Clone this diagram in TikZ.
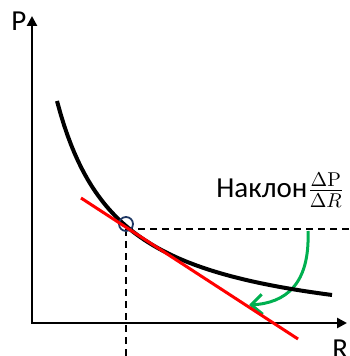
\documentclass[tikz,border=0pt]{standalone}
\usepackage[no-math]{fontspec}
\setmainfont{Carlito}
\usetikzlibrary{arrows.meta}

\begin{document}
\begin{tikzpicture}[x=0.5pt,y=-0.5pt,
  axis/.style={line width=1.25pt,line cap=rect,-{Triangle[length=5pt,width=5pt]}},
  guide/.style={line width=0.75pt,dash pattern=on 3.5pt off 2.5pt},
  lbl/.style={font=\fontsize{14.5}{16}\selectfont,inner sep=0pt}]

% Colours for point and arrow
\definecolor{pointblue}{RGB}{31,56,100}
\definecolor{turngreen}{RGB}{0,176,80}

\useasboundingbox (0,0) rectangle (349,356);

% Axes
\coordinate (O) at (32,323);
\coordinate (Ptip) at (32,16);
\coordinate (Rtip) at (347,323);
\draw[axis] (O) -- (Ptip);
\draw[axis] (O) -- (Rtip);
\node[lbl,anchor=base west] (Plabel) at (11,31) {P};
\node[lbl,anchor=base west] (Rlabel) at (332,358) {R};

% Slope arrow (under the curve)
\coordinate (g1) at (308,231);
\coordinate (g2) at (249,305);
\draw[turngreen,line width=1.5pt,-{Straight Barb[length=5.5pt,width=10pt]}]
  (g1) .. controls (310,285) and (285,303) .. (g2);

% Curve
\draw[line width=2pt] plot[domain=57:332,samples=80] (\x,{339-14847/(\x+5.38)});

% Point and guides
\coordinate (corner) at (126,229);
\coordinate (hend) at (349,229);
\coordinate (vend) at (126,356);
\draw[guide] (corner) -- (hend);
\draw[guide] (corner) -- (vend);
\node[circle,draw=pointblue,line width=0.9pt,minimum size=7pt,inner sep=0pt] (pt) at (126,224) {};

% Tangent
\coordinate (t1) at (81,198);
\coordinate (t2) at (298,339);
\draw[red,line width=1.5pt] (t1) -- (t2);

% Label
\node[lbl,anchor=base west] (slope) at (216,198) {Наклон$\frac{\Delta\mathrm{P}}{\Delta R}$};

\end{tikzpicture}
\end{document}
